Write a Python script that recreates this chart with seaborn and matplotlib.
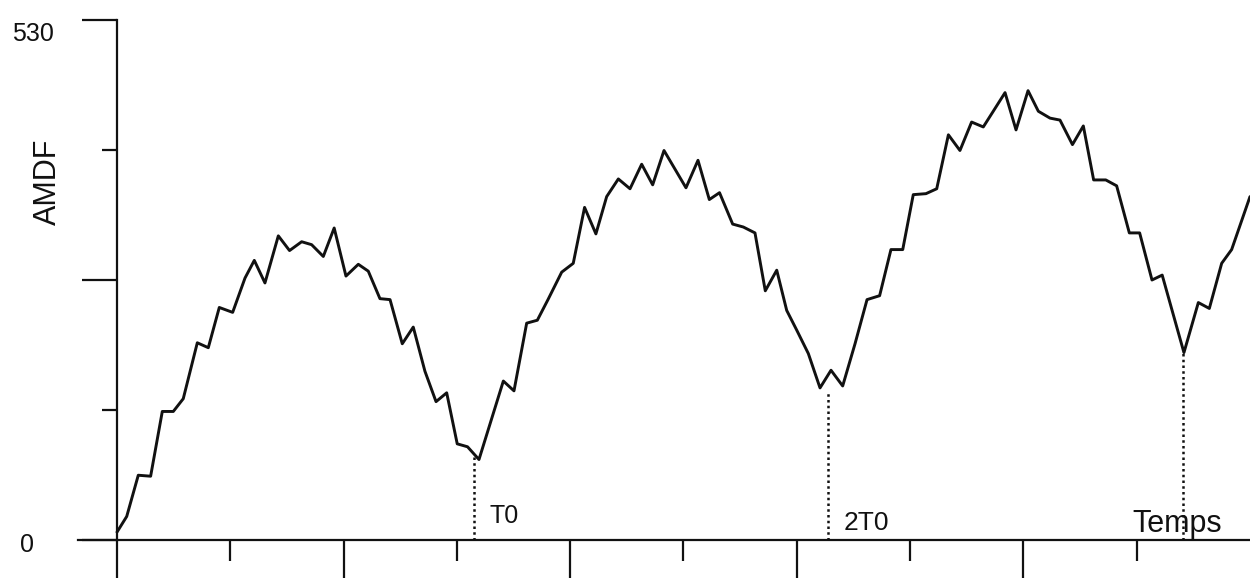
import matplotlib
matplotlib.use("Agg")
import matplotlib.pyplot as plt
import pandas as pd
import seaborn as sns

# lag (samples) and AMDF values
lag = [0.0, 0.86, 1.88, 2.97, 4.0, 4.97, 5.85, 7.09, 8.06, 9.03,
       10.21, 11.3, 12.12, 13.06, 14.24, 15.23, 16.3, 17.18, 18.21, 19.17,
       20.21, 21.3, 22.18, 23.21, 24.1, 25.18, 26.15, 27.18, 28.16, 29.1,
       30.03, 30.94, 31.95, 34.1, 35.04, 36.16, 37.1, 38.04, 39.25, 40.27,
       41.27, 42.27, 43.22, 44.25, 45.28, 46.31, 47.28, 48.28, 50.22, 51.28,
       52.28, 53.18, 54.34, 55.28, 56.31, 57.22, 58.23, 59.11, 59.99, 61.02,
       62.05, 63.02, 64.05, 65.14, 66.2, 67.31, 68.31, 69.35, 70.28, 71.4,
       72.35, 73.38, 74.4, 75.43, 76.46, 77.34, 78.38, 79.35, 80.41, 81.32,
       82.35, 83.23, 84.33, 85.29, 86.2, 87.27, 88.23, 89.35, 90.26, 91.35,
       92.25, 94.17, 95.44, 96.41, 97.5, 98.38, 100.0]
amdf = [8, 24, 66, 65, 131, 131, 144, 201, 196, 237,
        232, 267, 285, 262, 310, 295, 304, 301, 289, 318,
        269, 281, 274, 246, 245, 200, 217, 172, 141, 150,
        98, 95, 82, 162, 152, 221, 224, 245, 273, 282,
        339, 312, 350, 368, 358, 383, 362, 397, 359, 387,
        347, 354, 322, 319, 313, 254, 275, 234, 214, 190,
        155, 173, 157, 200, 245, 249, 296, 296, 352, 353,
        358, 413, 397, 426, 421, 437, 456, 418, 458, 437,
        430, 428, 403, 422, 367, 367, 361, 313, 313, 265,
        270, 191, 242, 236, 282, 296, 350]

# period markers (dotted drops to the axis)
mark_lag = [31.5, 62.75, 94.1]
mark_top = [87, 151, 191]
mark_text = ["T0", "2T0", "Temps"]

sns.set_style("white")
plt.rcParams["font.family"] = ["Liberation Sans", "DejaVu Sans"]

df = pd.DataFrame({"lag": lag, "amdf": amdf})

fig = plt.figure(figsize=(12.5, 5.87), dpi=100)
ax = fig.add_axes([0.0624, 0.0801, 1 - 0.0624, 0.9659 - 0.0801])

sns.lineplot(data=df, x="lag", y="amdf", ax=ax, color="#111111",
             linewidth=2.1, sort=False)

for xm, ym in zip(mark_lag, mark_top):
    ax.plot([xm, xm], [0, ym], color="#111111", linestyle=(0, (1, 1.3)),
            linewidth=1.8)

ax.set_xlim(-3.44, 100)
ax.set_ylim(0, 530)

for side in ["top", "right"]:
    ax.spines[side].set_visible(False)
ax.spines["left"].set_position(("data", 0))
for side in ["left", "bottom"]:
    ax.spines[side].set_linewidth(1.6)
    ax.spines[side].set_color("#111111")

ax.set_yticks([0, 265, 530])
ax.set_yticks([132.5, 397.5], minor=True)
ax.set_xticks([0, 20, 40, 60, 80])
ax.set_xticks([10, 30, 50, 70, 90], minor=True)
ax.set_xticklabels([])
ax.set_yticklabels([])
ax.tick_params(which="major", axis="y", direction="out", length=25, width=1.6,
               color="#111111", left=True)
ax.tick_params(which="minor", axis="y", direction="out", length=11, width=1.6,
               color="#111111", left=True)
ax.tick_params(which="major", axis="x", direction="out", length=27, width=1.6,
               color="#111111", bottom=True)
ax.tick_params(which="minor", axis="x", direction="out", length=15, width=1.6,
               color="#111111", bottom=True)
ax.set_xlabel("")
ax.set_ylabel("")

# axis annotations
ax.text(-7.4, 516, "530", fontsize=18, ha="center", va="center", color="#111111")
ax.text(-7.9, -5, "0", fontsize=18, ha="center", va="center", color="#111111")
ax.text(-6.1, 365, "AMDF", fontsize=22, rotation=90, ha="center", va="center",
        color="#111111")

ax.text(32.9, 17.3, mark_text[0], fontsize=18, ha="left", va="baseline",
        color="#111111")
ax.text(64.1, 10.2, mark_text[1], fontsize=19, ha="left", va="baseline",
        color="#111111")
ax.text(89.6, 8.5, mark_text[2], fontsize=22, ha="left", va="baseline",
        color="#111111")

fig.savefig("out.png", dpi=100)
